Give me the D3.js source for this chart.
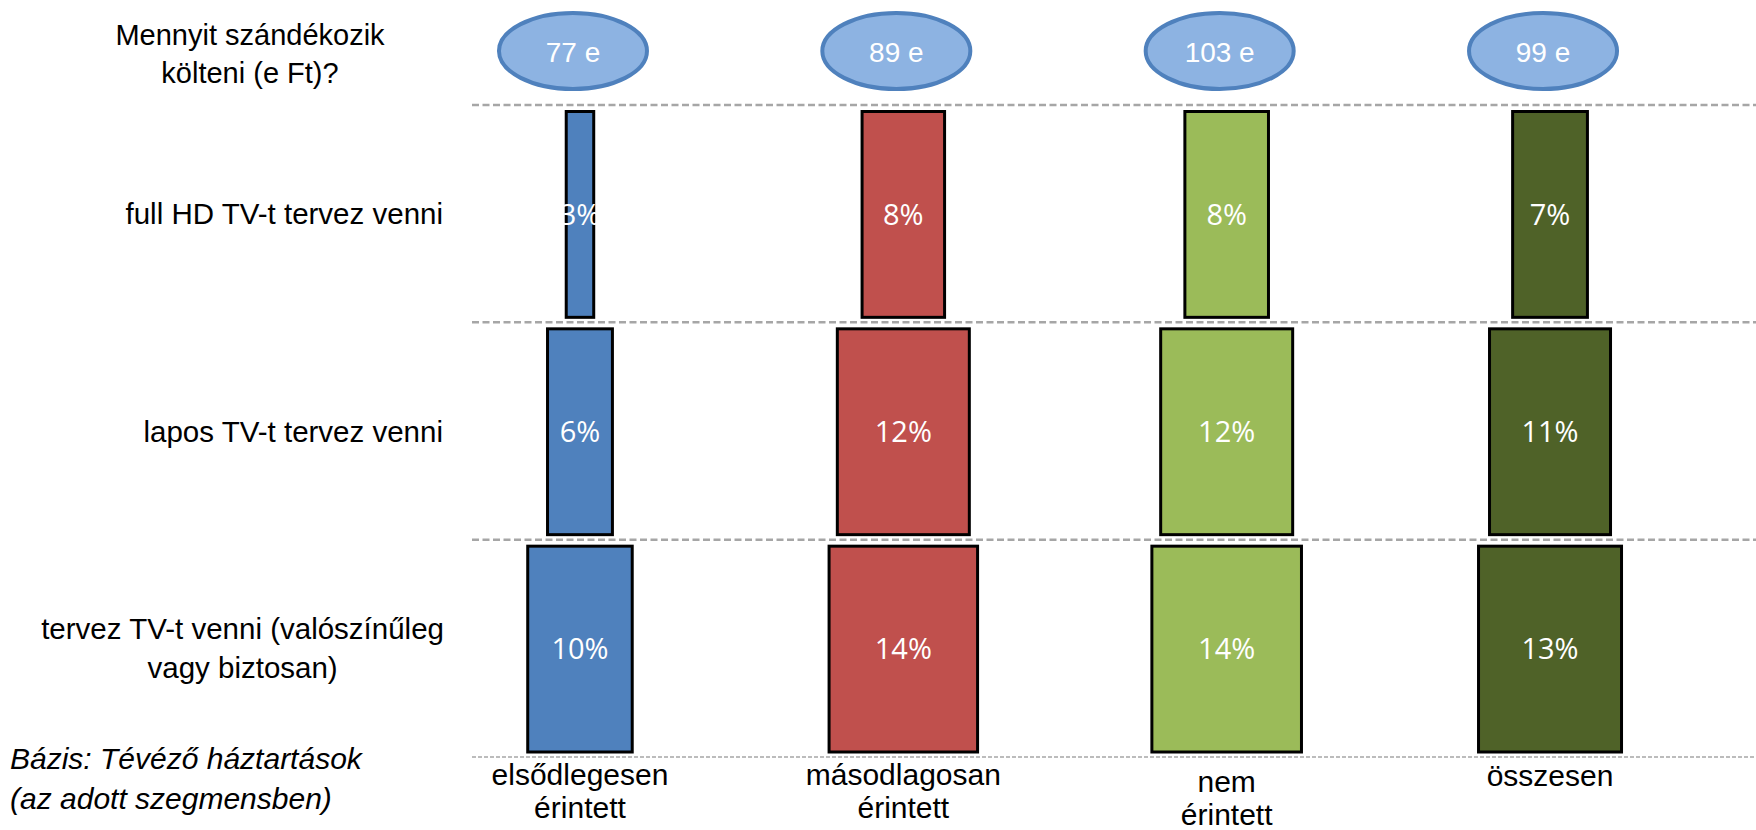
<!DOCTYPE html>
<html><head><meta charset="utf-8">
<script src="https://cdn.jsdelivr.net/npm/d3@7/dist/d3.min.js"></script>
<style>
html,body{margin:0;padding:0;background:#fff;}
svg{display:block;}
</style></head>
<body>
<svg id="chart" width="1756" height="830"></svg>
<script>
// ---- data ----
const segments = ["elsődlegesen érintett", "másodlagosan érintett", "nem érintett", "összesen"];
const segmentLines = [["elsődlegesen", "érintett"], ["másodlagosan", "érintett"], ["nem", "érintett"], ["összesen"]];
const spendK = [77, 89, 103, 99];
const rowNames = ["full HD TV-t tervez venni", "lapos TV-t tervez venni", "tervez TV-t venni (valószínűleg vagy biztosan)"];
const rowLines = [["full HD TV-t tervez venni"], ["lapos TV-t tervez venni"], ["tervez TV-t venni (valószínűleg", "vagy biztosan)"]];
const fullHD = [2.5, 7.5, 7.6, 6.8];
const flatTV = [5.9, 12.0, 12.0, 11.0];
const anyTV = [9.5, 13.5, 13.6, 13.0];
const segColors = ["#4F81BD", "#C0504D", "#9BBB59", "#4F6228"];
const headerLines = ["Mennyit szándékozik", "költeni (e Ft)?"];
const noteLines = ["Bázis: Tévéző háztartások", "(az adott szegmensben)"];

const seriesByRow = [fullHD, flatTV, anyTV];

// ---- layout ----
const svg = d3.select("#chart");
const font = "'Liberation Sans', Arial, sans-serif";
const narrow = "'Liberation Sans Narrow', 'Liberation Sans', Arial, sans-serif";

const x = d3.scaleBand().domain(segments).range([418.3, 1711.7]).padding(0);
const y = d3.scaleBand().domain(rowNames).range([105, 757]).padding(0);
const w = d3.scaleLinear().domain([0, 100]).range([0, 1100]);
const cx = s => x(s) + x.bandwidth() / 2;

// dashed separators
const sepYs = [...rowNames.map(r => y(r)), y.range()[1]];
svg.append("g").selectAll("line").data(sepYs).join("line")
  .attr("x1", 472).attr("x2", 1756)
  .attr("y1", d => d).attr("y2", d => d)
  .attr("stroke", "#A6A6A6")
  .attr("stroke-width", (d, i) => i === sepYs.length - 1 ? 1.5 : 2.5)
  .attr("stroke-dasharray", (d, i) => i === sepYs.length - 1 ? "4,2" : "7,3.5");

// bars
const cells = [];
rowNames.forEach((r, ri) => segments.forEach((s, si) => cells.push({ row: r, seg: s, si, v: seriesByRow[ri][si] })));

const bars = svg.append("g");
bars.selectAll("rect").data(cells).join("rect")
  .attr("x", d => cx(d.seg) - w(d.v) / 2)
  .attr("width", d => w(d.v))
  .attr("y", d => y(d.row) + 6.5)
  .attr("height", y.bandwidth() - 11.5)
  .attr("fill", d => segColors[d.si])
  .attr("stroke", "#000").attr("stroke-width", 3);

bars.selectAll("text").data(cells).join("text")
  .attr("x", d => cx(d.seg))
  .attr("y", d => y(d.row) + y.bandwidth() / 2 + 11)
  .attr("text-anchor", "middle")
  .attr("fill", "#fff").attr("font-family", "'Open Sans', sans-serif").attr("font-size", 29)
  .text(d => Math.round(d.v) + "%");

// ellipses with spending
const ell = svg.append("g");
ell.selectAll("ellipse").data(segments).join("ellipse")
  .attr("cx", d => cx(d) - 7).attr("cy", 51)
  .attr("rx", 74).attr("ry", 38)
  .attr("fill", "#8DB3E2").attr("stroke", "#4F81BD").attr("stroke-width", 4);
ell.selectAll("text").data(segments).join("text")
  .attr("x", d => cx(d) - 7).attr("y", 62)
  .attr("text-anchor", "middle")
  .attr("fill", "#fff").attr("font-family", narrow).attr("font-size", 28)
  .text((d, i) => spendK[i] + " e");

// header question
svg.append("text").attr("font-family", font).attr("font-size", 29).attr("fill", "#000")
  .attr("text-anchor", "middle")
  .selectAll("tspan").data(headerLines).join("tspan")
  .attr("x", 250).attr("y", (d, i) => 45 + i * 38).text(d => d);

// row labels
const rowFs = 29.5;
rowNames.forEach((r, ri) => {
  const lines = rowLines[ri];
  const mid = y(r) + y.bandwidth() / 2;
  const g = svg.append("text").attr("font-family", font).attr("font-size", rowFs).attr("fill", "#000");
  if (lines.length === 1) {
    g.attr("text-anchor", "end").append("tspan").attr("x", 443).attr("y", mid + 10.5).text(lines[0]);
  } else {
    const tmp = svg.append("text").attr("font-family", font).attr("font-size", rowFs).text(lines[0]);
    const lw = tmp.node().getComputedTextLength(); tmp.remove();
    const c = 444 - lw / 2;
    g.attr("text-anchor", "middle").selectAll("tspan").data(lines).join("tspan")
      .attr("x", c).attr("y", (d, i) => mid + 10.5 + (i - (lines.length - 1) / 2) * 39).text(d => d);
  }
});

// category labels
const catOffsets = [0, 0, 7, 1];
segments.forEach((s, si) => {
  svg.append("text").attr("font-family", narrow).attr("font-size", 30).attr("fill", "#000")
    .attr("text-anchor", "middle")
    .selectAll("tspan").data(segmentLines[si]).join("tspan")
    .attr("x", cx(s)).attr("y", (d, i) => 785 + catOffsets[si] + i * 33).text(d => d);
});

// note
svg.append("text").attr("font-family", font).attr("font-size", 30).attr("font-style", "italic").attr("fill", "#000")
  .selectAll("tspan").data(noteLines).join("tspan")
  .attr("x", 10).attr("y", (d, i) => 769 + i * 40).text(d => d);
</script>
</body></html>
